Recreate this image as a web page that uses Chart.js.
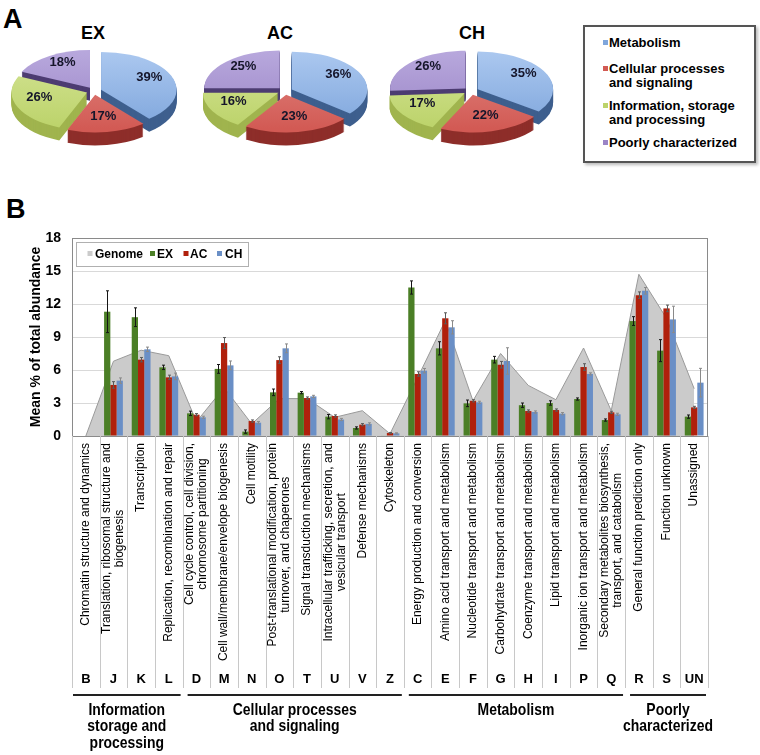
<!DOCTYPE html>
<html>
<head>
<meta charset="utf-8">
<script src="https://cdn.jsdelivr.net/npm/chart.js@4.4.1/dist/chart.umd.min.js"></script>
<style>
  body { margin: 0; background: #fff; width: 760px; height: 755px; overflow: hidden; position: relative;
         font-family: "Liberation Sans", Arial, sans-serif; color: #000; }
  .abs { position: absolute; }
  .panel { font-weight: bold; font-size: 27px; line-height: 27px; }
  .ptitle { font-weight: bold; font-size: 18px; line-height: 18px; width: 60px; text-align: center; }
  #legA { left: 583px; top: 25px; width: 169px; height: 134px; border: 2px solid #555; box-shadow: 2px 2px 3px #bbb; background: #fff; }
  .li { position: absolute; left: 24px; font-weight: bold; font-size: 13px; line-height: 14px; white-space: nowrap; }
  .sw { position: absolute; left: -6px; top: 4px; width: 5px; height: 5px; }
</style>
</head>
<body>
<div class="abs panel" style="left:3px;top:6px;">A</div>
<div class="abs panel" style="left:6px;top:196px;">B</div>

<div class="abs ptitle" style="left:63px;top:24px;">EX</div>
<div class="abs ptitle" style="left:250px;top:24px;">AC</div>
<div class="abs ptitle" style="left:442px;top:24px;">CH</div>

<canvas id="pieEX" class="abs" width="180" height="180" style="left:4px;top:1px;"></canvas>
<canvas id="pieAC" class="abs" width="180" height="180" style="left:195px;top:1px;"></canvas>
<canvas id="pieCH" class="abs" width="180" height="180" style="left:381px;top:1px;"></canvas>

<div id="legA" class="abs">
  <div class="li" style="top:9px;"><span class="sw" style="background:#7fa6dc"></span>Metabolism</div>
  <div class="li" style="top:35px;"><span class="sw" style="background:#d25a54"></span>Cellular processes<br>and signaling</div>
  <div class="li" style="top:72px;"><span class="sw" style="background:#bcd36a"></span>Information, storage<br>and processing</div>
  <div class="li" style="top:109px;"><span class="sw" style="background:#9a84c6"></span>Poorly characterized</div>
</div>

<canvas id="barB" class="abs" width="760" height="575" style="left:0;top:180px;"></canvas>

<script>
  "use strict";
  var FONT = '"Liberation Sans", Arial, sans-serif';

  // ---- panel A data (Metabolism, Cellular, Information, Poorly) ----
  var pieGroups = ['Metabolism', 'Cellular processes and signaling', 'Information, storage and processing', 'Poorly characterized'];
  var pieEX = [39, 17, 26, 18];
  var pieAC = [36, 23, 16, 25];
  var pieCH = [35, 22, 17, 26];
  var pieTop = ['#7fa6dc', '#d25a54', '#bcd36a', '#9a84c6'];
  var pieLight = ['#aac7ef', '#e08580', '#d3e394', '#b7a7dc'];
  var pieSide = ['#3e5f8e', '#8e2e2a', '#a0b44e', '#4d3c72'];

  // ---- panel B data ----
  var codes = ['B', 'J', 'K', 'L', 'D', 'M', 'N', 'O', 'T', 'U', 'V', 'Z', 'C', 'E', 'F', 'G', 'H', 'I', 'P', 'Q', 'R', 'S', 'UN'];
  var categoryNames = [
    ['Chromatin structure and dynamics'],
    ['Translation, ribosomal structure and', 'biogenesis'],
    ['Transcription'],
    ['Replication, recombination and repair'],
    ['Cell cycle control, cell division,', 'chromosome partitioning'],
    ['Cell wall/membrane/envelope biogenesis'],
    ['Cell motility'],
    ['Post-translational modification, protein', 'turnover, and chaperones'],
    ['Signal transduction mechanisms'],
    ['Intracellular trafficking, secretion, and', 'vesicular transport'],
    ['Defense mechanisms'],
    ['Cytoskeleton'],
    ['Energy production and conversion'],
    ['Amino acid transport and metabolism'],
    ['Nucleotide transport and metabolism'],
    ['Carbohydrate transport and metabolism'],
    ['Coenzyme transport and metabolism'],
    ['Lipid transport and metabolism'],
    ['Inorganic ion transport and metabolism'],
    ['Secondary metabolites biosynthesis,', 'transport, and catabolism'],
    ['General function prediction only'],
    ['Function unknown'],
    ['Unassigned']
  ];
  var groupNames = [['Information', 'storage and', 'processing'], ['Cellular processes', 'and signaling'], ['Metabolism'], ['Poorly', 'characterized']];
  var groupRanges = [[0, 3], [4, 11], [12, 19], [20, 22]];
  var genome = [0, 6.8, 7.8, 7.3, 1.3, 4.4, 1.1, 3.4, 3.4, 1.7, 2.3, 0.2, 5.3, 10.5, 3.2, 7.5, 4.6, 3.3, 8.0, 2.3, 14.7, 10.7, 4.3];
  var ex = [0, 11.3, 10.8, 6.24, 2.06, 6.1, 0.4, 3.97, 3.94, 1.76, 0.73, 0.05, 13.5, 7.97, 2.97, 6.94, 2.8, 3.0, 3.36, 1.45, 10.45, 7.76, 1.76];
  var ac = [0, 4.64, 6.94, 5.33, 1.94, 8.45, 1.36, 6.9, 3.45, 1.82, 1.03, 0.27, 5.64, 10.7, 3.2, 6.48, 2.27, 2.36, 6.27, 2.15, 12.8, 11.6, 2.6];
  var ch = [0, 5.03, 7.88, 5.42, 1.7, 6.42, 1.21, 7.97, 3.6, 1.5, 1.1, 0.24, 5.94, 9.88, 3.06, 6.82, 2.18, 2.03, 5.64, 1.97, 13.2, 10.6, 4.85];
  var exErr = [0, 1.9, 0.85, 0.2, 0.2, 0.4, 0.15, 0.3, 0.1, 0.2, 0.1, 0, 0.6, 0.6, 0.3, 0.3, 0.2, 0.2, 0.1, 0.1, 0.4, 1.0, 0.15];
  var acErr = [0, 0.3, 0.2, 0.2, 0.1, 0.5, 0.1, 0.3, 0.1, 0.1, 0.1, 0.05, 0.2, 0.5, 0.1, 0.3, 0.1, 0.1, 0.3, 0.1, 0.3, 0.3, 0.1];
  var chErr = [0, 0.25, 0.2, 0.3, 0.1, 0.4, 0.1, 0.4, 0.1, 0.1, 0.1, 0.05, 0.2, 0.6, 0.1, 1.2, 0.1, 0.1, 0.1, 0.1, 0.3, 1.2, 1.3];
  var yTicks = [0, 3, 6, 9, 12, 15, 18];

  var GREEN = '#4b7f26', RED = '#b0200c', BLUE = '#6a8fc6', GREY = '#cbcbcb';

  /** Draws the pie slices as exploded, tilted 3D wedges using the arc geometry of Chart.js */
  var pie3d = {
    id: 'pie3d',
    beforeDatasetsDraw: function(chart) {
      var ctx = chart.ctx;
      var k = 0.5, depth = 13, explode = 7.5;
      var values = chart.data.datasets[0].data;
      var parts = chart.getDatasetMeta(0).data.map(function(arc, i) {
        var p = arc.getProps(['x', 'y', 'startAngle', 'endAngle', 'outerRadius']);
        var mid = (p.startAngle + p.endAngle) / 2;
        return { p: p, i: i, mid: mid, cx: p.x + Math.cos(mid) * explode, cy: p.y + Math.sin(mid) * explode * k };
      });
      function wedge(q, yOff) {
        ctx.beginPath();
        ctx.save();
        ctx.translate(q.cx, q.cy + yOff);
        ctx.scale(1, k);
        ctx.moveTo(0, 0);
        ctx.arc(0, 0, q.p.outerRadius, q.p.startAngle, q.p.endAngle);
        ctx.closePath();
        ctx.restore();
      }
      ctx.save();
      parts.slice().sort(function(a, b) { return Math.sin(a.mid) - Math.sin(b.mid); }).forEach(function(q) {
        ctx.fillStyle = pieSide[q.i];
        for (var d = depth; d > 0; d--) { wedge(q, d); ctx.fill(); }
        var r = q.p.outerRadius;
        var g = ctx.createLinearGradient(0, q.p.y - r * k, 0, q.p.y + r * k);
        g.addColorStop(0, pieLight[q.i]);
        g.addColorStop(1, pieTop[q.i]);
        ctx.fillStyle = g;
        wedge(q, 0);
        ctx.fill();
      });
      // percentage labels
      ctx.font = 'bold 13px ' + FONT;
      ctx.fillStyle = '#15152a';
      ctx.textAlign = 'center';
      ctx.textBaseline = 'middle';
      parts.forEach(function(q) {
        var lr = 0.68 * q.p.outerRadius;
        ctx.fillText(values[q.i] + '%', q.cx + Math.cos(q.mid) * lr, q.cy + Math.sin(q.mid) * lr * k - 4);
      });
      ctx.restore();
      return false;
    }
  };

  function makePie(id, values) {
    return new Chart(document.getElementById(id), {
      type: 'pie',
      data: {
        labels: pieGroups,
        datasets: [{ data: values, backgroundColor: pieTop, borderWidth: 0 }]
      },
      options: {
        responsive: false,
        animation: false,
        layout: { padding: 14.5 },
        plugins: { legend: { display: false }, tooltip: { enabled: false } }
      },
      plugins: [pie3d]
    });
  }
  makePie('pieEX', pieEX);
  makePie('pieAC', pieAC);
  makePie('pieCH', pieCH);

  /** Error bars, plot frame, inner legend and the category annotation below the axis */
  var decorB = {
    id: 'decorB',
    afterDatasetsDraw: function(chart) {
      var ctx = chart.ctx, ys = chart.scales.y;
      var errs = { 1: exErr, 2: acErr, 3: chErr };
      var cols = { 1: '#151515', 2: '#5a5a5a', 3: '#8a8a8a' };
      ctx.save();
      ctx.lineWidth = 1;
      [1, 2, 3].forEach(function(di) {
        var meta = chart.getDatasetMeta(di);
        var vals = chart.data.datasets[di].data;
        ctx.strokeStyle = cols[di];
        meta.data.forEach(function(bar, i) {
          var e = errs[di][i];
          if (!e) return;
          var x = Math.round(bar.x) + 0.5;
          var yt = ys.getPixelForValue(vals[i] + e), yb = ys.getPixelForValue(Math.max(0, vals[i] - e));
          ctx.beginPath();
          ctx.moveTo(x, yt); ctx.lineTo(x, yb);
          ctx.moveTo(x - 1.5, yt); ctx.lineTo(x + 1.5, yt);
          ctx.moveTo(x - 1.5, yb); ctx.lineTo(x + 1.5, yb);
          ctx.stroke();
        });
      });
      ctx.restore();
    },
    afterDraw: function(chart) {
      var ctx = chart.ctx, a = chart.chartArea, xs = chart.scales.x;
      ctx.save();
      // frame
      ctx.strokeStyle = '#8a8a8a';
      ctx.lineWidth = 1;
      ctx.strokeRect(a.left + 0.5, a.top + 0.5, a.right - a.left - 1, a.bottom - a.top);

      // legend inside the plot
      ctx.fillStyle = '#fff';
      ctx.fillRect(a.left + 4, a.top + 4, 172, 24);
      ctx.strokeStyle = '#b0b0b0';
      ctx.strokeRect(a.left + 4.5, a.top + 4.5, 172, 24);
      var items = [['Genome', GREY, 15.5, 23], ['EX', GREEN, 78, 85], ['AC', RED, 111.5, 118], ['CH', BLUE, 145, 153]];
      ctx.font = 'bold 12px ' + FONT;
      ctx.textBaseline = 'middle';
      ctx.textAlign = 'left';
      items.forEach(function(it) {
        ctx.fillStyle = it[1];
        ctx.fillRect(a.left + it[2], a.top + 13, 5, 5);
        ctx.fillStyle = '#000';
        ctx.fillText(it[0], a.left + it[3], a.top + 16.5);
      });

      // category boundaries
      var n = codes.length;
      function bound(i) {
        if (i <= 0) return a.left;
        if (i >= n) return a.right;
        return (xs.getPixelForValue(i - 1) + xs.getPixelForValue(i)) / 2;
      }
      ctx.strokeStyle = '#c8c8c8';
      for (var b = 0; b <= n; b++) {
        var bx = Math.round(bound(b)) + 0.5;
        ctx.beginPath();
        ctx.moveTo(bx, a.bottom);
        ctx.lineTo(bx, a.bottom + 252);
        ctx.stroke();
      }

      // rotated category names
      ctx.fillStyle = '#000';
      ctx.font = '12px ' + FONT;
      var lh = 13;
      categoryNames.forEach(function(lines, i) {
        var x = xs.getPixelForValue(i);
        var maxW = Math.max.apply(null, lines.map(function(t) { return ctx.measureText(t).width; }));
        ctx.save();
        ctx.translate(x, a.bottom + 7);
        ctx.rotate(-Math.PI / 2);
        ctx.textAlign = 'center';
        ctx.textBaseline = 'middle';
        lines.forEach(function(t, j) {
          ctx.fillText(t, -maxW / 2, (j - (lines.length - 1) / 2) * lh);
        });
        ctx.restore();
      });

      // COG letters
      ctx.font = 'bold 13px ' + FONT;
      ctx.textAlign = 'center';
      ctx.textBaseline = 'middle';
      codes.forEach(function(c, i) {
        ctx.fillText(c, xs.getPixelForValue(i), a.bottom + 243);
      });

      // group lines and names (condensed bold text)
      ctx.strokeStyle = '#222';
      ctx.lineWidth = 2;
      ctx.font = 'bold 17px ' + FONT;
      groupRanges.forEach(function(rg, g) {
        var x0 = bound(rg[0]) + (g === 0 ? 1 : 5), x1 = bound(rg[1] + 1) - 2;
        ctx.beginPath();
        ctx.moveTo(x0, a.bottom + 259);
        ctx.lineTo(x1, a.bottom + 259);
        ctx.stroke();
        groupNames[g].forEach(function(t, j) {
          ctx.save();
          ctx.translate((x0 + x1) / 2, a.bottom + 274 + j * 16.5);
          ctx.scale(0.82, 1);
          ctx.fillText(t, 0, 0);
          ctx.restore();
        });
      });
      ctx.restore();
    }
  };

  new Chart(document.getElementById('barB'), {
    type: 'bar',
    data: {
      labels: codes,
      datasets: [
        { type: 'line', label: 'Genome', data: genome, fill: 'origin', backgroundColor: GREY,
          borderColor: '#9a9a9a', borderWidth: 1, pointRadius: 0, tension: 0, order: 5 },
        { label: 'EX', data: ex, backgroundColor: GREEN, order: 1 },
        { label: 'AC', data: ac, backgroundColor: RED, order: 1 },
        { label: 'CH', data: ch, backgroundColor: BLUE, order: 1 }
      ]
    },
    options: {
      responsive: false,
      animation: false,
      layout: { padding: { top: 58, right: 52, left: 0, bottom: 0 } },
      datasets: { bar: { categoryPercentage: 0.68, barPercentage: 1.0, borderWidth: 0 } },
      plugins: { legend: { display: false }, tooltip: { enabled: false } },
      scales: {
        x: {
          grid: { display: false },
          border: { display: false },
          ticks: { display: false },
          afterFit: function(scale) { scale.height = 319; }
        },
        y: {
          min: 0,
          max: 18,
          afterBuildTicks: function(scale) { scale.ticks = yTicks.map(function(v) { return { value: v }; }); },
          ticks: { color: '#000', padding: 11, font: { family: FONT, size: 14, weight: 'bold' } },
          grid: { color: '#d9d9d9', drawTicks: false },
          border: { display: false },
          title: { display: true, text: 'Mean % of total abundance', color: '#000',
                   font: { family: FONT, size: 14, weight: 'bold' }, padding: { top: 28, bottom: 0 } },
          afterFit: function(scale) { scale.width = 72; }
        }
      }
    },
    plugins: [decorB]
  });
</script>
</body>
</html>
